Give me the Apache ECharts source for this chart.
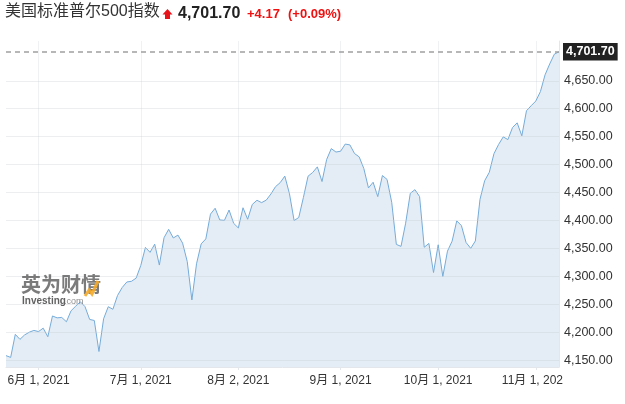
<!DOCTYPE html>
<html>
<head>
<meta charset="utf-8">
<script src="https://cdn.jsdelivr.net/npm/echarts@6/dist/echarts.min.js"></script>
<style>
  html, body { margin: 0; padding: 0; background: #fff; }
  #chart { width: 625px; height: 404px; }
</style>
</head>
<body>
<div id="chart"></div>
<script>
// trading days, 2021
const dates = [
  '05-20', '05-21', '05-24', '05-25', '05-26', '05-27', '05-28',
  '06-01', '06-02', '06-03', '06-04', '06-07', '06-08', '06-09', '06-10', '06-11',
  '06-14', '06-15', '06-16', '06-17', '06-18', '06-21', '06-22', '06-23', '06-24', '06-25',
  '06-28', '06-29', '06-30',
  '07-01', '07-02', '07-06', '07-07', '07-08', '07-09', '07-12', '07-13', '07-14', '07-15',
  '07-16', '07-19', '07-20', '07-21', '07-22', '07-23', '07-26', '07-27', '07-28', '07-29', '07-30',
  '08-02', '08-03', '08-04', '08-05', '08-06', '08-09', '08-10', '08-11', '08-12', '08-13',
  '08-16', '08-17', '08-18', '08-19', '08-20', '08-23', '08-24', '08-25', '08-26', '08-27',
  '08-30', '08-31',
  '09-01', '09-02', '09-03', '09-07', '09-08', '09-09', '09-10', '09-13', '09-14', '09-15',
  '09-16', '09-17', '09-20', '09-21', '09-22', '09-23', '09-24', '09-27', '09-28', '09-29', '09-30',
  '10-01', '10-04', '10-05', '10-06', '10-07', '10-08', '10-11', '10-12', '10-13', '10-14',
  '10-15', '10-18', '10-19', '10-20', '10-21', '10-22', '10-25', '10-26', '10-27', '10-28', '10-29',
  '11-01', '11-02', '11-03', '11-04', '11-05', '11-08'
];

const closes = [
  4159.12, 4155.86, 4197.05, 4188.13, 4195.99, 4200.88, 4204.11,
  4202.04, 4208.12, 4192.85, 4229.89, 4226.52, 4227.26, 4219.55, 4239.18, 4247.44,
  4255.15, 4246.59, 4223.70, 4221.86, 4166.45, 4224.79, 4246.44, 4241.84, 4266.49, 4280.70,
  4290.61, 4291.80, 4297.50,
  4319.94, 4352.34, 4343.54, 4358.13, 4320.82, 4369.55, 4384.63, 4369.21, 4374.30, 4360.03,
  4327.16, 4258.49, 4323.06, 4358.69, 4367.48, 4411.79, 4422.30, 4401.46, 4400.64, 4419.15, 4395.26,
  4387.16, 4423.15, 4402.66, 4429.10, 4436.52, 4432.35, 4436.75, 4447.70, 4460.83, 4468.00,
  4479.71, 4448.08, 4400.27, 4405.80, 4441.67, 4479.53, 4486.23, 4496.19, 4470.00, 4509.37,
  4528.79, 4522.68,
  4524.09, 4536.95, 4535.43, 4520.03, 4514.07, 4493.28, 4458.58, 4468.73, 4443.05, 4480.70,
  4473.75, 4432.99, 4357.73, 4354.19, 4395.64, 4448.98, 4455.48, 4443.11, 4352.63, 4359.46, 4307.54,
  4357.04, 4300.46, 4345.72, 4363.55, 4399.76, 4391.34, 4361.19, 4350.65, 4363.80, 4438.26,
  4471.37, 4486.46, 4519.63, 4536.19, 4549.78, 4544.90, 4566.48, 4574.79, 4551.68, 4596.42, 4605.38,
  4613.67, 4630.65, 4660.57, 4680.06, 4697.53, 4701.70
];

const tickDates = ['06-01', '07-01', '08-02', '09-01', '10-01', '11-01'];
const tickLabels = ['6月 1, 2021', '7月 1, 2021', '8月 2, 2021', '9月 1, 2021', '10月 1, 2021', '11月 1, 2021'];
const yTicks = [4150, 4200, 4250, 4300, 4350, 4400, 4450, 4500, 4550, 4600, 4650];
const lastClose = 4701.70;

const FONT = "'Liberation Sans', 'Noto Sans CJK SC', sans-serif";
const fmt = v => v.toLocaleString('en-US', {minimumFractionDigits: 2, maximumFractionDigits: 2});
const isTick = i => tickDates.indexOf(dates[i]) >= 0;

const chart = echarts.init(document.getElementById('chart'));

chart.setOption({
  animation: false,
  grid: { left: 6, right: 66, top: 41, bottom: 37 },
  xAxis: {
    type: 'category',
    data: dates,
    boundaryGap: false,
    axisLine: { lineStyle: { color: '#e3e6ea' } },
    axisTick: { show: true, length: 3, interval: isTick, lineStyle: { color: '#e3e6ea' } },
    axisLabel: {
      interval: isTick,
      formatter: v => tickLabels[tickDates.indexOf(v)],
      color: '#333', fontSize: 12, fontFamily: FONT, margin: 8
    },
    splitLine: { show: true, interval: isTick, lineStyle: { color: '#f0f1f3' } }
  },
  yAxis: {
    type: 'value',
    position: 'right',
    min: 4138.75,
    max: 4721,
    axisLine: { show: true, lineStyle: { color: '#e3e6ea' } },
    axisTick: { show: false },
    splitLine: { show: false },
    axisLabel: {
      customValues: yTicks,
      formatter: v => fmt(v),
      color: '#333', fontSize: 12.5, fontFamily: FONT, margin: 5
    }
  },
  series: [{
    type: 'line',
    data: closes,
    symbol: 'none',
    lineStyle: { color: '#75abd9', width: 1 },
    areaStyle: { color: '#e4edf5', opacity: 1 },
    markLine: {
      silent: true,
      symbol: 'none',
      animation: false,
      data: yTicks.map(v => ({
        yAxis: v,
        lineStyle: { color: 'rgba(200,205,212,0.35)', type: 'solid', width: 1 },
        label: { show: false }
      })).concat([{
        yAxis: lastClose,
        lineStyle: { color: '#a0a0a0', type: [5, 4], width: 1.5 },
        label: {
          show: true,
          position: 'end',
          distance: 4,
          formatter: fmt(lastClose),
          backgroundColor: '#222',
          color: '#fff',
          fontWeight: 'bold',
          fontSize: 12.5,
          fontFamily: FONT,
          padding: [3, 3, 2, 3]
        }
      }])
    }
  }],
  graphic: [
    { type: 'text', left: 5, top: 4, style: { text: '美国标准普尔500指数', fill: '#333', font: '16px ' + FONT } },
    { type: 'polygon', shape: { points: [[167.5, 9], [172.5, 14.5], [170, 14.5], [170, 19], [165, 19], [165, 14.5], [162.5, 14.5]] }, style: { fill: '#e8141b' } },
    { type: 'text', left: 178, top: 6, style: { text: fmt(lastClose), fill: '#222', font: 'bold 16px ' + FONT } },
    { type: 'text', left: 247, top: 8, style: { text: '+4.17', fill: '#f01010', font: 'bold 13px ' + FONT } },
    { type: 'text', left: 288, top: 8, style: { text: '(+0.09%)', fill: '#f01010', font: 'bold 13px ' + FONT } },
    // watermark
    { type: 'text', left: 21, top: 276, z: 10, style: { text: '英为财情', fill: 'rgba(100,100,100,0.85)', font: 'bold 20px ' + FONT } },
    { type: 'polyline', z: 11, shape: { points: [[85, 296], [89, 290], [92, 294], [98, 281]] }, style: { stroke: 'rgba(245,170,40,0.9)', lineWidth: 3, fill: null } },
    { type: 'text', left: 22, top: 296, z: 10, style: { text: 'Investing', fill: 'rgba(80,80,80,0.9)', font: 'bold 10px ' + FONT } },
    { type: 'text', left: 64, top: 297, z: 10, style: { text: '.com', fill: 'rgba(130,130,130,0.9)', font: '9px ' + FONT } },
    // clip the last date label at the axis edge
    { type: 'rect', z: 20, shape: { x: 563, y: 369, width: 62, height: 30 }, style: { fill: '#fff' } }
  ]
});
</script>
</body>
</html>
